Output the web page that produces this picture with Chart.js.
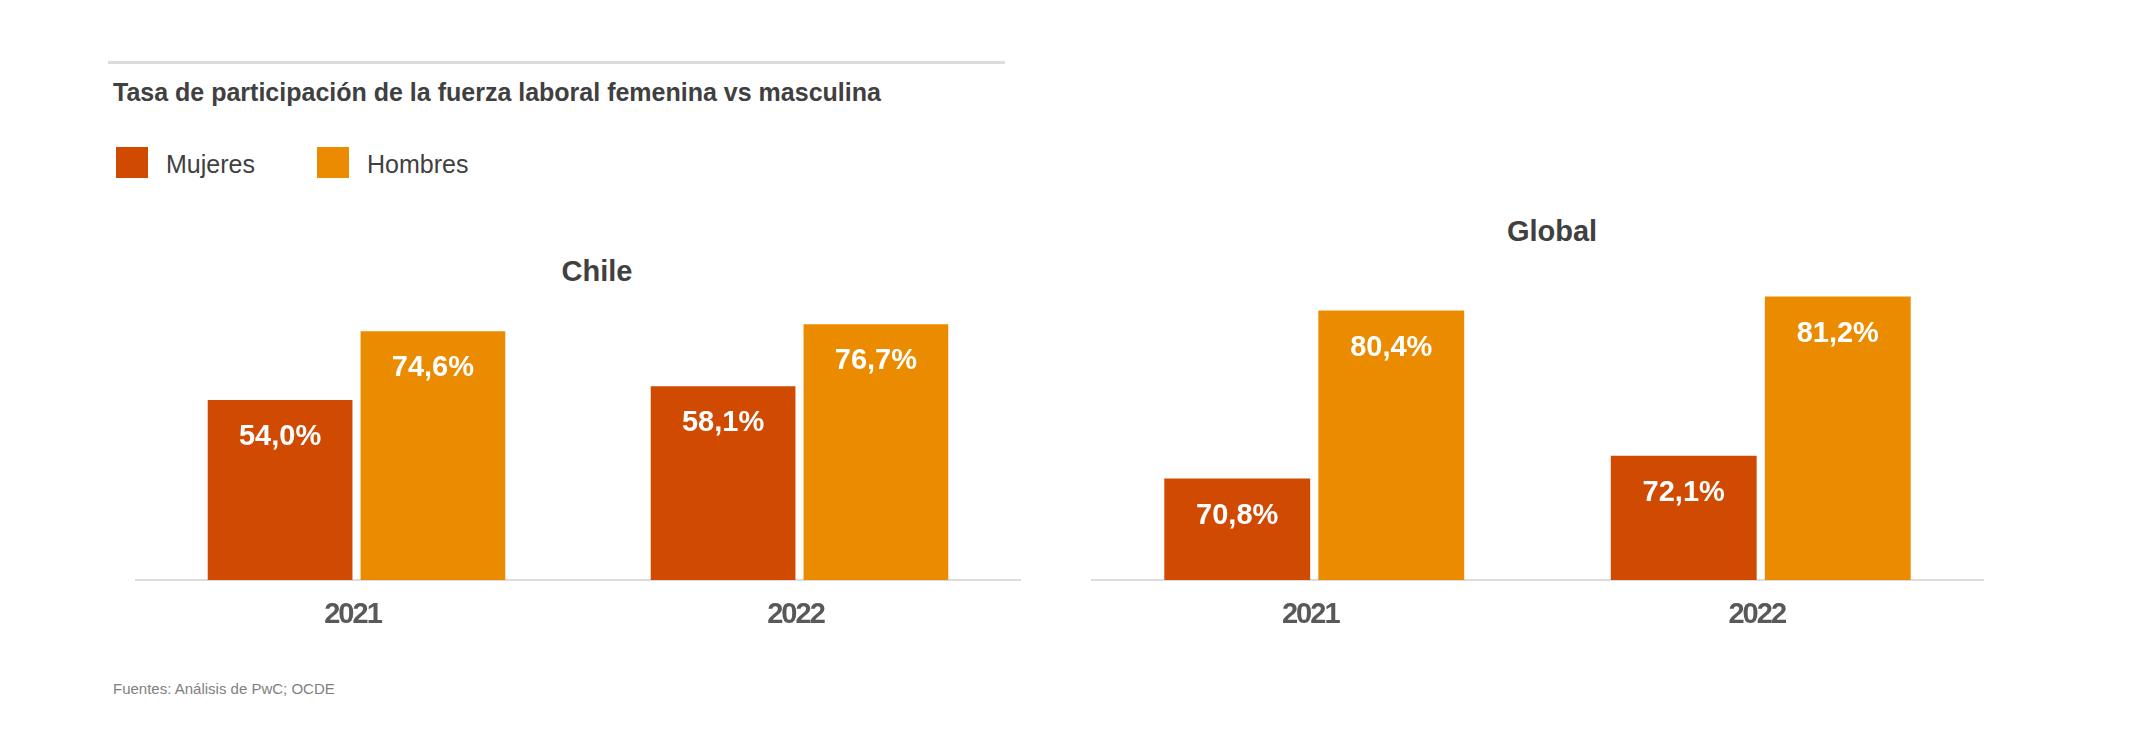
<!DOCTYPE html>
<html>
<head>
<meta charset="utf-8">
<script src="https://cdn.jsdelivr.net/npm/chart.js@4.4.1/dist/chart.umd.min.js"></script>
<style>
  body { margin: 0; background: #fff; font-family: "Liberation Sans", Arial, sans-serif; }
  #page { position: relative; width: 2134px; height: 730px; overflow: hidden; }
  .abs { position: absolute; white-space: nowrap; }
  #rule { left: 108px; top: 61px; width: 897px; height: 3px; background: #dcdcdc; }
  #title { left: 113px; top: 80px; font-size: 25px; line-height: 25px; font-weight: bold; color: #404041; }
  .swatch { top: 147px; width: 32px; height: 31px; }
  .legtext { top: 152px; font-size: 25px; line-height: 25px; color: #404041; }
  .sub { width: 200px; text-align: center; font-size: 29px; line-height: 29px; font-weight: bold; color: #404041; }
  #source { left: 113px; top: 681px; font-size: 15px; line-height: 15px; color: #7f7f7f; }
  canvas { position: absolute; }
</style>
</head>
<body>
<div id="page">
  <div id="rule" class="abs"></div>
  <div id="title" class="abs">Tasa de participación de la fuerza laboral femenina vs masculina</div>
  <div class="abs swatch" style="left:116px;background:#D04A02"></div>
  <div class="abs legtext" style="left:166px">Mujeres</div>
  <div class="abs swatch" style="left:317px;background:#EB8C00"></div>
  <div class="abs legtext" style="left:367px">Hombres</div>
  <div class="abs sub" style="left:497px;top:257px">Chile</div>
  <div class="abs sub" style="left:1452px;top:217px">Global</div>
  <canvas id="chileChart" width="886" height="460" style="left:135px;top:200px"></canvas>
  <canvas id="globalChart" width="893" height="460" style="left:1091px;top:200px"></canvas>
  <div id="source" class="abs">Fuentes: Análisis de PwC; OCDE</div>
</div>
<script>
const years = ['2021', '2022'];
const seriesNames = ['Mujeres', 'Hombres'];
const seriesColors = ['#D04A02', '#EB8C00'];

const chileMujeres = [54.0, 58.1];
const chileHombres = [74.6, 76.7];
const globalMujeres = [70.8, 72.1];
const globalHombres = [80.4, 81.2];

const FONT = '"Liberation Sans", Arial, sans-serif';

function fmt(v) {
  return v.toFixed(1).replace('.', ',') + '%';
}

// year labels in the original are set tighter than the default spacing
const tightTicks = {
  id: 'tightTicks',
  beforeDraw(chart) { chart.ctx.letterSpacing = '-2px'; },
  beforeDatasetsDraw(chart) { chart.ctx.letterSpacing = '0px'; }
};

// white value labels inside the top of each bar
const barLabels = {
  id: 'barLabels',
  afterDatasetsDraw(chart) {
    const ctx = chart.ctx;
    ctx.save();
    ctx.font = 'bold 29px ' + FONT;
    ctx.fillStyle = '#ffffff';
    ctx.textAlign = 'center';
    ctx.textBaseline = 'alphabetic';
    chart.data.datasets.forEach((ds, i) => {
      chart.getDatasetMeta(i).data.forEach((bar, j) => {
        ctx.fillText(fmt(ds.data[j]), bar.x, bar.y + 45);
      });
    });
    ctx.restore();
  }
};

function makeChart(id, mujeres, hombres, yMin, yMax) {
  return new Chart(document.getElementById(id), {
    type: 'bar',
    data: {
      labels: years,
      datasets: [
        { label: seriesNames[0], data: mujeres, backgroundColor: seriesColors[0] },
        { label: seriesNames[1], data: hombres, backgroundColor: seriesColors[1] }
      ]
    },
    options: {
      responsive: false,
      animation: false,
      categoryPercentage: 0.69,
      barPercentage: 0.947,
      layout: { padding: { top: 30, left: 0, right: 0, bottom: 0 } },
      plugins: { legend: { display: false }, tooltip: { enabled: false } },
      scales: {
        x: {
          grid: { display: false },
          border: { display: true, color: '#dcdcdc', width: 2 },
          ticks: {
            color: '#595959', padding: 10, labelOffset: -4,
            font: { family: FONT, size: 29, weight: 'bold' }
          },
          afterFit: s => { s.height = 80; }
        },
        y: { display: false, min: yMin, max: yMax }
      }
    },
    plugins: [tightTicks, barLabels]
  });
}

makeChart('chileChart', chileMujeres, chileHombres, 0, 105);
makeChart('globalChart', globalMujeres, globalHombres, 65, 85);
</script>
</body>
</html>
